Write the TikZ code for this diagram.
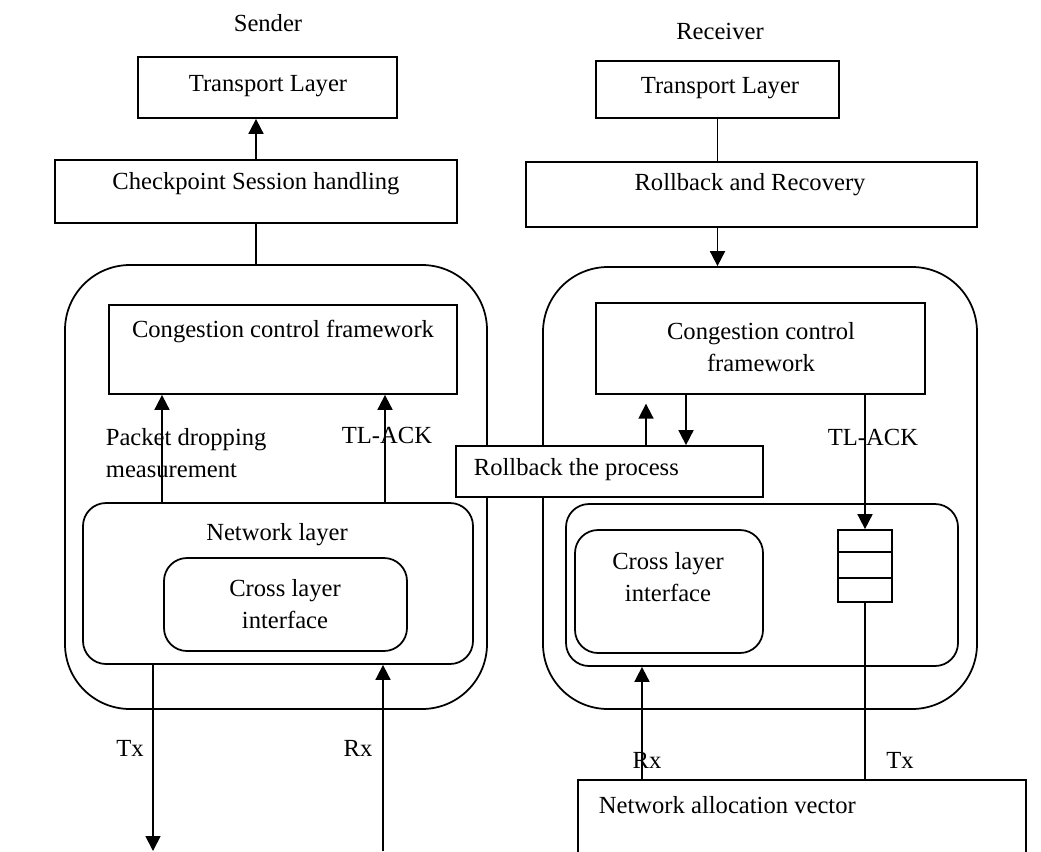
\documentclass[tikz,border=0pt]{standalone}
\usepackage{fontspec}
\setmainfont{Liberation Serif}
\usetikzlibrary{arrows.meta,fit}

\begin{document}
\begin{tikzpicture}[x=0.2mm, y=-0.2mm, line width=1pt,
    >={Triangle[length=8.5pt,width=8.5pt]},
    every node/.style={font=\fontsize{14}{17.8}\selectfont},
    box/.style={draw, fill=white, inner sep=0pt},
    host/.style={draw, inner sep=0pt, rounded corners=1.3cm},
    layer/.style={draw, inner sep=0pt, rounded corners=0.46cm},
    txt/.style={inner sep=0pt, align=center}]
    \clip (0,0) rectangle (1041,851);

    % sender
    \node[txt] (sndT) at (268,23) {Sender};
    \node[box, fit={(138,57) (397,118)}] (tlS) {};
    \node[txt] (tlSt) at (268,86) {Transport Layer};
    \node[box, fit={(55,160) (457,223)}] (ckS) {};
    \node[txt] (ckSt) at (256,184) {Checkpoint Session handling};
    \node[host, fit={(65,265) (487,709)}] (hostS) {};
    \node[box, fit={(109,305) (457,394)}] (ccS) {};
    \node[txt] (ccSt) at (283,331) {Congestion control framework};
    \node[layer, fit={(83,503) (473,664)}] (nlS) {};
    \node[txt] (nlSt) at (277,535) {Network layer};
    \node[layer, fit={(164,558) (407,651)}] (clS) {};
    \node[txt] (clSt) at (285,604) {Cross layer\\interface};

    \coordinate (pdX) at (162,0);
    \coordinate (ackX) at (385,0);
    \coordinate (txS) at (153,851);
    \coordinate (rxS) at (383,851);

    \draw [->] (ckS.north) -- (ckS.north |- tlS.south);
    \draw (ckS.south) -- (ckS.south |- hostS.north);
    \draw [->] (pdX |- nlS.north) -- (pdX |- ccS.south);
    \draw [->] (ackX |- nlS.north) -- (ackX |- ccS.south);
    \draw [->] (txS |- nlS.south) -- (txS);
    \draw [->] (rxS) -- (rxS |- nlS.south);

    \node[txt, align=left, anchor=west] (pdL) at (105,453) {Packet dropping\\measurement};
    \node[txt] (ackSL) at (387,435) {TL-ACK};
    \node[txt] (txSL) at (130,748) {Tx};
    \node[txt] (rxSL) at (358,748) {Rx};

    % receiver
    \node[txt] (rcvT) at (720,31) {Receiver};
    \node[box, fit={(596,61) (839,118)}] (tlR) {};
    \node[txt] (tlRt) at (720,88) {Transport Layer};
    \node[box, fit={(526,162) (977,227)}] (rrR) {};
    \node[txt] (rrRt) at (750,185) {Rollback and Recovery};
    \node[host, fit={(543,267) (977,709)}] (hostR) {};
    \node[box, fit={(596,303) (925,394)}] (ccR) {};
    \node[txt] (ccRt) at (761,347) {Congestion control\\framework};
    \node[layer, fit={(566,504) (958,666)}] (nlR) {};
    \node[layer, fit={(575,530) (763,653)}] (clR) {};
    \node[txt] (clRt) at (668,577) {Cross layer\\interface};
    \foreach \t/\b [count=\i] in {530/552, 552/578, 578/602}
        \node[box, fit={(838,\t) (892,\b)}] (q\i) {};
    \node[box, fit={(578,780) (1026,900)}] (navR) {};
    \node[txt, anchor=west] (navRt) at (598,805) {Network allocation vector};

    \node[box, fit={(456,446) (763,497)}] (rbR) {};
    \node[txt, anchor=west] (rbRt) at (473,470) {Rollback the process};

    \coordinate (upX) at (646,0);
    \coordinate (dnX) at (686,0);
    \coordinate (rxR) at (642,0);

    \draw (tlR.south) -- (tlR.south |- rrR.north);
    \draw [->] (tlR.south |- rrR.south) -- (tlR.south |- hostR.north);
    \draw [->, shorten >=5pt] (upX |- rbR.north) -- (upX |- ccR.south);
    \draw [->] (dnX |- ccR.south) -- (dnX |- rbR.north);
    \draw [->] (q1.north |- ccR.south) -- (q1.north);
    \draw (q3.south) -- (q3.south |- navR.north);
    \draw [->] (rxR |- navR.north) -- (rxR |- nlR.south);

    \node[txt] (ackRL) at (873,437) {TL-ACK};
    \node[txt] (rxRL) at (647,760) {Rx};
    \node[txt] (txRL) at (900,760) {Tx};
\end{tikzpicture}
\end{document}
